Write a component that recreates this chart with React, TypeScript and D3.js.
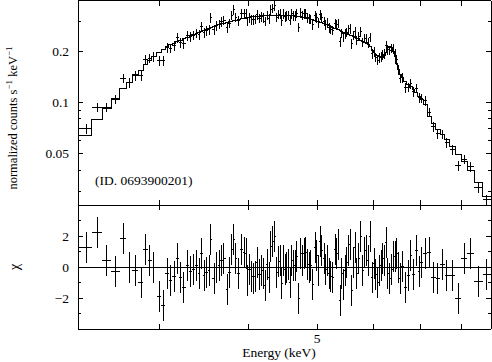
import * as d3 from 'd3';

// bin centres (keV)
const energy = [
  2.361, 2.449, 2.525, 2.6, 2.665, 2.715, 2.768, 2.823, 2.866, 2.906,
  2.944, 2.993, 3.032, 3.074, 3.108, 3.142, 3.176, 3.207, 3.243, 3.281,
  3.317, 3.345, 3.383, 3.408, 3.438, 3.464, 3.494, 3.521, 3.543, 3.578,
  3.61, 3.637, 3.669, 3.696, 3.736, 3.761, 3.79, 3.81, 3.84, 3.872,
  3.915, 3.945, 3.97, 3.987, 4.013, 4.045, 4.066, 4.088, 4.119, 4.146,
  4.178, 4.2, 4.223, 4.255, 4.283, 4.302, 4.33, 4.358, 4.387, 4.415,
  4.444, 4.459, 4.482, 4.507, 4.532, 4.556, 4.581, 4.606, 4.63, 4.656,
  4.681, 4.712, 4.743, 4.774, 4.794, 4.82, 4.852, 4.877, 4.899, 4.931,
  4.968, 4.996, 5.022, 5.05, 5.078, 5.116, 5.144, 5.171, 5.205, 5.228,
  5.262, 5.302, 5.331, 5.359, 5.389, 5.419, 5.447, 5.477, 5.507, 5.536,
  5.567, 5.598, 5.627, 5.658, 5.689, 5.719, 5.764, 5.801, 5.831, 5.864,
  5.908, 5.94, 5.979, 6.018, 6.052, 6.091, 6.123, 6.157, 6.191, 6.223,
  6.257, 6.292, 6.325, 6.374, 6.408, 6.443, 6.479, 6.513, 6.549, 6.598,
  6.656, 6.728, 6.78, 6.838, 6.898, 6.966, 7.027, 7.103, 7.203, 7.297,
  7.402, 7.514, 7.622, 7.762, 7.915, 8.063, 8.221, 8.446, 8.68,
];

// normalized counts s^-1 keV^-1
const counts = [
  0.07, 0.0938, 0.0938, 0.1044, 0.1389, 0.1303, 0.1433, 0.1433, 0.1795, 0.182,
  0.186, 0.1755, 0.1755, 0.2091, 0.2077, 0.2149, 0.2394, 0.2237, 0.2207, 0.246,
  0.2427, 0.2476, 0.2544, 0.2493, 0.2778, 0.2561, 0.2631, 0.2667, 0.3136, 0.2667,
  0.2816, 0.2873, 0.2972, 0.3032, 0.2741, 0.2912, 0.3244, 0.3495, 0.3157, 0.3012,
  0.3334, 0.3311, 0.3311, 0.2992, 0.3136, 0.3053, 0.3053, 0.3073, 0.3266, 0.3115,
  0.3179, 0.3136, 0.2992, 0.3253, 0.3094, 0.3495, 0.3566, 0.3689, 0.3157, 0.3289,
  0.3311, 0.3012, 0.3311, 0.3179, 0.3222, 0.3253, 0.3032, 0.3311, 0.324, 0.3231,
  0.3334, 0.2759, 0.3356, 0.3244, 0.3311, 0.3311, 0.3153, 0.309, 0.3085, 0.2854,
  0.3244, 0.3136, 0.2932, 0.3266, 0.3136, 0.2992, 0.2854, 0.2932, 0.2741, 0.2686,
  0.2649, 0.2892, 0.2854, 0.2912, 0.2268, 0.2544, 0.241, 0.2527, 0.2578, 0.2667,
  0.2704, 0.2207, 0.2476, 0.2596, 0.2314, 0.2443, 0.2596, 0.2253, 0.2378, 0.2362,
  0.2237, 0.241, 0.1929, 0.1982, 0.184, 0.1767, 0.1827, 0.1852, 0.1903, 0.1929,
  0.2149, 0.2036, 0.2022, 0.2077, 0.2063, 0.1929, 0.1779, 0.1552, 0.1385, 0.1395,
  0.1219, 0.1227, 0.1287, 0.1154, 0.121, 0.1065, 0.1058, 0.1022, 0.0875, 0.0719,
  0.0655, 0.065, 0.058, 0.0527, 0.0425, 0.0464, 0.042, 0.0316, 0.0268,
];

// folded model, one value per bin
const model = [
  0.0637, 0.0798, 0.0917, 0.1061, 0.1214, 0.1309, 0.1452, 0.1539, 0.1662, 0.1767,
  0.1865, 0.1968, 0.205, 0.2129, 0.2178, 0.2222, 0.2268, 0.2314, 0.2362, 0.241,
  0.246, 0.2493, 0.2527, 0.2561, 0.2596, 0.2631, 0.2667, 0.2704, 0.2741, 0.2778,
  0.2816, 0.2854, 0.2892, 0.292, 0.2952, 0.2972, 0.3, 0.3012, 0.3032, 0.3065,
  0.3094, 0.3115, 0.3136, 0.3148, 0.3166, 0.3179, 0.3192, 0.32, 0.3209, 0.3213,
  0.3222, 0.3222, 0.3222, 0.3222, 0.3222, 0.3222, 0.3222, 0.3222, 0.3222, 0.3222,
  0.3222, 0.3222, 0.3222, 0.3222, 0.3222, 0.3222, 0.3222, 0.3222, 0.3222, 0.3213,
  0.3205, 0.3192, 0.3179, 0.3162, 0.3148, 0.3136, 0.3115, 0.3094, 0.3073, 0.3053,
  0.3012, 0.2992, 0.2972, 0.2952, 0.2932, 0.2892, 0.2873, 0.2854, 0.2816, 0.2797,
  0.2759, 0.2722, 0.2704, 0.2667, 0.2631, 0.2613, 0.2585, 0.2561, 0.2527, 0.251,
  0.2476, 0.246, 0.2427, 0.241, 0.2378, 0.2362, 0.2314, 0.2283, 0.2253, 0.2222,
  0.2178, 0.2134, 0.2009, 0.1955, 0.1903, 0.1877, 0.1852, 0.184, 0.184, 0.1877,
  0.1955, 0.2091, 0.212, 0.2091, 0.1982, 0.1852, 0.1685, 0.1554, 0.1452, 0.1394,
  0.1322, 0.1269, 0.1235, 0.1194, 0.1139, 0.1079, 0.1036, 0.0968, 0.0823, 0.0749,
  0.0691, 0.0646, 0.0604, 0.0549, 0.0493, 0.0449, 0.0397, 0.0338, 0.0279,
];

// residuals (chi)
const chi = [
  1.23, 2.2, 0.45, -0.28, 1.85, -0.05, -0.24, -1.0, 1.16, 0.45,
  -0.03, -1.92, -2.5, -0.41, -0.84, -0.63, 0.58, -0.67, -1.3, 0.08,
  -0.28, -0.13, 0.08, -0.41, 0.88, -0.56, -0.35, -0.24, 1.8, -0.77,
  -0.03, 0.08, 0.45, 0.58, -1.42, -0.35, 1.16, 1.8, 0.52, -0.45,
  1.1, 0.94, 0.84, -0.84, -0.13, -0.63, -0.71, -0.63, 0.3, -0.5,
  -0.24, -0.41, -1.2, 0.15, -0.67, 1.31, 1.65, 2.0, -0.35, 0.36,
  0.45, -1.06, 0.4, -0.19, -0.03, 0.15, -0.99, 0.45, 0.08, 0.08,
  0.66, -2.06, 0.88, 0.45, 0.84, 0.94, 0.19, -0.03, 0.08, -1.1,
  1.23, 0.73, -0.24, 1.65, 1.05, 0.52, -0.13, 0.4, -0.45, -0.63,
  -0.67, 1.16, 0.84, 1.44, -2.17, -0.45, -1.1, -0.24, 0.3, 1.05,
  1.44, -1.53, 0.3, 1.26, -0.45, 0.52, 2.0, -0.24, 0.94, 1.05,
  0.4, 2.0, -0.67, 0.23, -0.5, -0.99, -0.24, 0.08, 0.58, 0.4,
  1.59, -0.45, -0.77, -0.13, 0.66, 0.66, 0.84, -0.03, -0.77, 0.02,
  -1.3, -0.56, 0.73, -0.5, 1.05, -0.28, 0.3, 0.84, 0.94, -0.67,
  -0.77, 0.15, -0.56, -0.56, -2.06, 0.52, 0.88, -0.93, -0.5,
];

const energyTicks = [3, 4, 5, 6, 7, 8];
const energyLabels = [5];
const countMajor = [0.05, 0.1, 0.2];
const countMinor = [0.03, 0.04, 0.06, 0.07, 0.08, 0.09, 0.3, 0.4];
const chiMajor = [-2, 0, 2];
const chiMinor = [-3, -1, 1, 3];
const countErr = 0.065; // typical half height of the count error bars

const left = 78;
const right = 491;
const top = 0.5;
const split = 205;
const bottom = 329;
const font = 'Liberation Serif, Times New Roman, serif';

const App = () => {
  const x = d3.scaleLog().domain([2.3, 8.8]).range([left, right]);
  const y = d3.scaleLog().domain([0.025, 0.4]).range([split, 0]);
  const yr = d3.scaleLinear().domain([-4, 4]).range([bottom, split]);

  const n = energy.length;
  const lo = energy.map((e, i) => (i === 0 ? 2.3 : Math.sqrt(energy[i - 1] * e)));
  const hi = energy.map((e, i) =>
    i === n - 1 ? Math.min(8.8, (e * e) / Math.sqrt(energy[i - 1] * e)) : Math.sqrt(e * energy[i + 1])
  );

  const steps: [number, number][] = model.map((m, i) => [lo[i], m]);
  steps.push([hi[n - 1], model[n - 1]]);
  const modelLine = d3
    .line<[number, number]>()
    .x((d) => x(d[0]))
    .y((d) => y(d[1]))
    .curve(d3.curveStepAfter);

  const ln = { stroke: '#000', strokeWidth: 1, fill: 'none' };
  const crisp = { ...ln, shapeRendering: 'crispEdges' as const };

  return (
    <svg width={492} height={362} style={{ position: 'absolute', left: 0, top: 0, background: '#fff' }}>
      <rect x={0} y={0} width={492} height={362} fill="#fff" />

      {/* frame */}
      <g {...crisp}>
        <line x1={left} x2={right} y1={top} y2={top} />
        <line x1={left} x2={right} y1={split} y2={split} />
        <line x1={left} x2={right} y1={bottom} y2={bottom} />
        <line x1={left} x2={left} y1={top} y2={bottom} />
        <line x1={right} x2={right} y1={top} y2={bottom} />
      </g>

      {/* energy ticks */}
      {energyTicks.map((t) => (
        <g key={'xt' + t} {...crisp}>
          <line x1={x(t)} x2={x(t)} y1={top} y2={top + 5} />
          <line x1={x(t)} x2={x(t)} y1={split - 5} y2={split + 5} />
          <line x1={x(t)} x2={x(t)} y1={bottom - 5} y2={bottom} />
        </g>
      ))}
      {energyLabels.map((t) => (
        <text key={'xl' + t} x={x(t)} y={343} textAnchor="middle" fontFamily={font} fontSize={13.5}>
          {t}
        </text>
      ))}

      {/* count axis ticks */}
      {countMajor.map((t) => (
        <g key={'ym' + t}>
          <line x1={left} x2={left + 5} y1={y(t)} y2={y(t)} {...crisp} />
          <line x1={right - 5} x2={right} y1={y(t)} y2={y(t)} {...crisp} />
          <text x={69} y={y(t)} dy="0.35em" textAnchor="end" fontFamily={font} fontSize={13.5}>
            {t}
          </text>
        </g>
      ))}
      {countMinor.map((t) => (
        <g key={'yn' + t} {...crisp}>
          <line x1={left} x2={left + 3} y1={y(t)} y2={y(t)} />
          <line x1={right - 3} x2={right} y1={y(t)} y2={y(t)} />
        </g>
      ))}

      {/* chi axis ticks */}
      {chiMajor.map((t) => (
        <g key={'cm' + t}>
          <line x1={left} x2={left + 5} y1={yr(t)} y2={yr(t)} {...crisp} />
          <line x1={right - 5} x2={right} y1={yr(t)} y2={yr(t)} {...crisp} />
          <text x={69} y={yr(t)} dy="0.35em" textAnchor="end" fontFamily={font} fontSize={13.5}>
            {t < 0 ? '\u2212' + Math.abs(t) : t}
          </text>
        </g>
      ))}
      {chiMinor.map((t) => (
        <g key={'cn' + t} {...crisp}>
          <line x1={left} x2={left + 3} y1={yr(t)} y2={yr(t)} />
          <line x1={right - 3} x2={right} y1={yr(t)} y2={yr(t)} />
        </g>
      ))}

      {/* model */}
      <path d={modelLine(steps) ?? ''} {...crisp} />

      {/* data */}
      <g {...crisp}>
        {counts.map((c, i) => (
          <g key={'d' + i}>
            <line x1={x(lo[i])} x2={x(hi[i])} y1={y(c)} y2={y(c)} />
            <line x1={x(energy[i])} x2={x(energy[i])} y1={y(c * (1 - countErr))} y2={y(c * (1 + countErr))} />
          </g>
        ))}
      </g>

      {/* residuals */}
      <g {...crisp}>
        <line x1={left} x2={right} y1={yr(0)} y2={yr(0)} />
        {chi.map((r, i) => (
          <g key={'r' + i}>
            <line x1={x(lo[i])} x2={x(hi[i])} y1={yr(r)} y2={yr(r)} />
            <line x1={x(energy[i])} x2={x(energy[i])} y1={yr(r - 1)} y2={yr(r + 1)} />
          </g>
        ))}
      </g>

      <text x={95} y={185} fontFamily={font} fontSize={13.5}>
        (ID. 0693900201)
      </text>
      <text transform="translate(17,118) rotate(-90)" textAnchor="middle" fontFamily={font} fontSize={12.5}>
        normalized counts s<tspan dy={-5} fontSize={9}>{'\u22121'}</tspan>
        <tspan dy={5}> keV</tspan>
        <tspan dy={-5} fontSize={9}>{'\u22121'}</tspan>
      </text>
      <text transform="translate(19,267) rotate(-90)" textAnchor="middle" fontFamily={font} fontSize={15}>
        χ
      </text>
      <text x={279} y={357} textAnchor="middle" fontFamily={font} fontSize={13.5}>
        Energy (keV)
      </text>
    </svg>
  );
};

export default App;
